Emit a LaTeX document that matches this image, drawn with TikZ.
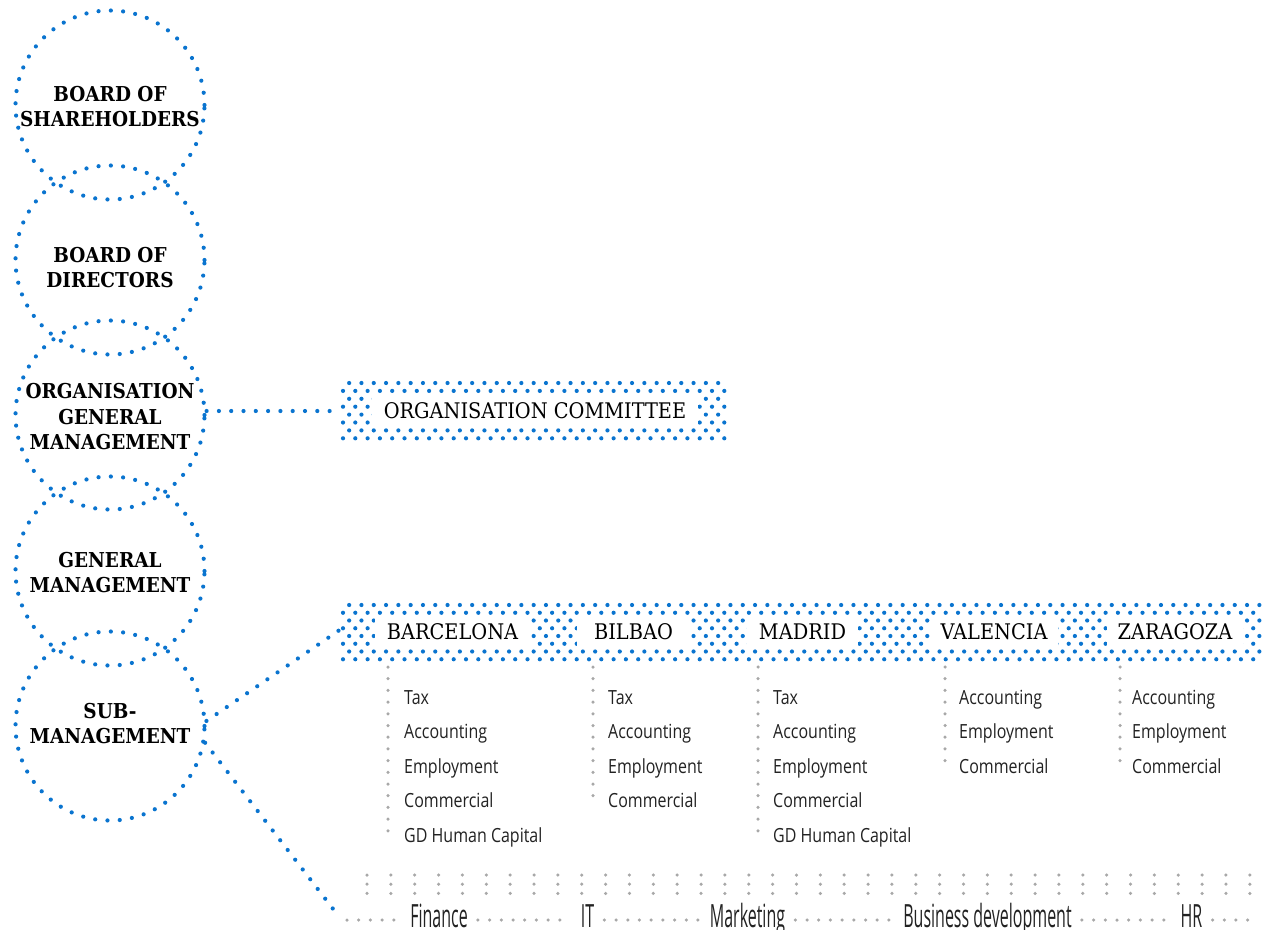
\documentclass[tikz,border=0pt]{standalone}
\usepackage{fontspec}
\setmainfont{DejaVu Serif}
\newfontfamily\slab{DejaVu Serif}[FakeStretch=0.9]
\newfontfamily\cond{Open Sans}[FakeStretch=0.82]
\newfontfamily\condb{Open Sans}[FakeStretch=0.5]
\definecolor{blu}{HTML}{0A74CF}
\definecolor{dotgray}{HTML}{A8A8A8}
\definecolor{txtgray}{HTML}{222222}
\begin{document}
\begin{tikzpicture}[x=1pt,y=-1pt,
  bdot/.style={draw=blu, line width=4.2pt, line cap=round, dash pattern=on 0pt off 12.3pt},
  circ/.style={circle, draw=blu, line width=4.2pt, line cap=round, dash pattern=on 0pt off 12.3pt, minimum size=189pt, inner sep=0pt},
  ctext/.style={align=center, inner sep=0pt, font=\slab\bfseries\fontsize{20.5}{25.5}\selectfont},
  wbox/.style={fill=white, inner sep=0pt, minimum height=31pt, font=\slab\fontsize{21.5}{22}\selectfont},
  gdot/.style={draw=dotgray, line width=3.5pt, line cap=round, dash pattern=on 0pt off 11.7pt},
  gdotgrid/.style={draw=dotgray, line width=3.5pt, line cap=round, dash pattern=on 0pt off 23.86pt},
  listtxt/.style={anchor=base west, inner sep=0pt, font=\cond\fontsize{19.5}{20}\selectfont, text=txtgray},
  bottxt/.style={anchor=base, inner sep=0pt, font=\condb\fontsize{32}{33}\selectfont, text=txtgray}
]
\useasboundingbox (0,0) rectangle (1263,929);

% circles
\node[circ] (c1) at (110,105) {};
\node[circ] (c2) at (110,260) {};
\node[circ] (c3) at (110,415) {};
\node[circ] (c4) at (110,571) {};
\node[circ] (c5) at (110,726) {};
\node[ctext] (t1) at (110,106.5) {BOARD OF\\SHAREHOLDERS};
\node[ctext] (t2) at (110,267.5) {BOARD OF\\DIRECTORS};
\node[ctext] (t3) at (110,417) {ORGANISATION\\GENERAL\\MANAGEMENT};
\node[ctext] (t4) at (110,572.5) {GENERAL\\MANAGEMENT};
\node[ctext] (t5) at (110,723.5) {SUB-\\MANAGEMENT};

% dotted bands
\foreach \i in {0,...,7} {
  \pgfmathsetmacro\yy{383+\i*7.9}
  \pgfmathsetmacro\xs{343+6.15*mod(\i+1,2)}
  \draw[bdot] (\xs,\yy) -- (728,\yy);
}
\foreach \i in {0,...,7} {
  \pgfmathsetmacro\yy{605+\i*7.75}
  \pgfmathsetmacro\xs{343+6.15*mod(\i+1,2)}
  \draw[bdot] (\xs,\yy) -- (1263,\yy);
}

% band labels
\node[wbox, minimum width=326pt] (oc) at (535,410.5) {ORGANISATION COMMITTEE};
\node[wbox, minimum width=155pt] (bcn) at (452.5,631.5) {BARCELONA};
\node[wbox, minimum width=113pt] (bil) at (633.5,631.5) {BILBAO};
\node[wbox, minimum width=111pt] (mad) at (802.5,631.5) {MADRID};
\node[wbox, minimum width=127pt] (val) at (994,631.5) {VALENCIA};
\node[wbox, minimum width=136pt] (zar) at (1175,631.5) {ZARAGOZA};

% connectors
\coordinate (ocin) at (335,411);
\coordinate (b2in) at (341,629);
\coordinate (fnin) at (337,914);
\draw[bdot] (c3.east |- ocin) -- (ocin);
\draw[bdot] (c5.3) -- (b2in);
\draw[bdot] (c5.-10) -- (fnin);

% lists
\coordinate (l1a) at (388,667); \coordinate (l1b) at (388,834);
\coordinate (l2a) at (593,667); \coordinate (l2b) at (593,797);
\coordinate (l3a) at (758,667); \coordinate (l3b) at (758,834);
\coordinate (l4a) at (945,667); \coordinate (l4b) at (945,766);
\coordinate (l5a) at (1120,667); \coordinate (l5b) at (1120,766);
\draw[gdot] (l1a) -- (l1b);
\draw[gdot] (l2a) -- (l2b);
\draw[gdot] (l3a) -- (l3b);
\draw[gdot] (l4a) -- (l4b);
\draw[gdot] (l5a) -- (l5b);

\node[listtxt] (b1) at (404,704) {Tax};
\node[listtxt] (b2) at (404,738.5) {Accounting};
\node[listtxt] (b3) at (404,773) {Employment};
\node[listtxt] (b4) at (404,807.5) {Commercial};
\node[listtxt] (b5) at (404,842) {GD Human Capital};

\node[listtxt] (i1) at (608,704) {Tax};
\node[listtxt] (i2) at (608,738.5) {Accounting};
\node[listtxt] (i3) at (608,773) {Employment};
\node[listtxt] (i4) at (608,807.5) {Commercial};

\node[listtxt] (m1) at (773,704) {Tax};
\node[listtxt] (m2) at (773,738.5) {Accounting};
\node[listtxt] (m3) at (773,773) {Employment};
\node[listtxt] (m4) at (773,807.5) {Commercial};
\node[listtxt] (m5) at (773,842) {GD Human Capital};

\node[listtxt] (v1) at (959,704) {Accounting};
\node[listtxt] (v2) at (959,738.5) {Employment};
\node[listtxt] (v3) at (959,773) {Commercial};

\node[listtxt] (z1) at (1132,704) {Accounting};
\node[listtxt] (z2) at (1132,738.5) {Employment};
\node[listtxt] (z3) at (1132,773) {Commercial};

% bottom grid
\foreach \r in {875,884.2,893.4} {
  \draw[gdotgrid] (367,\r) -- (1252,\r);
}

% bottom row
\node[bottxt] (fin) at (439,927.5) {Finance};
\node[bottxt] (it) at (587.5,927.5) {IT};
\node[bottxt] (mkt) at (747.5,927.5) {Marketing};
\node[bottxt] (bd) at (987.5,927.5) {Business development};
\node[bottxt] (hr) at (1191.5,927.5) {HR};
\coordinate (bl) at (347,920);
\coordinate (br) at (1258,920);
\draw[gdot] (bl) -- ([xshift=-10pt]fin.west |- bl);
\draw[gdot] ([xshift=10pt]fin.east |- bl) -- ([xshift=-10pt]it.west |- bl);
\draw[gdot] ([xshift=10pt]it.east |- bl) -- ([xshift=-10pt]mkt.west |- bl);
\draw[gdot] ([xshift=10pt]mkt.east |- bl) -- ([xshift=-10pt]bd.west |- bl);
\draw[gdot] ([xshift=10pt]bd.east |- bl) -- ([xshift=-10pt]hr.west |- bl);
\draw[gdot] ([xshift=10pt]hr.east |- bl) -- (br);
\end{tikzpicture}
\end{document}
